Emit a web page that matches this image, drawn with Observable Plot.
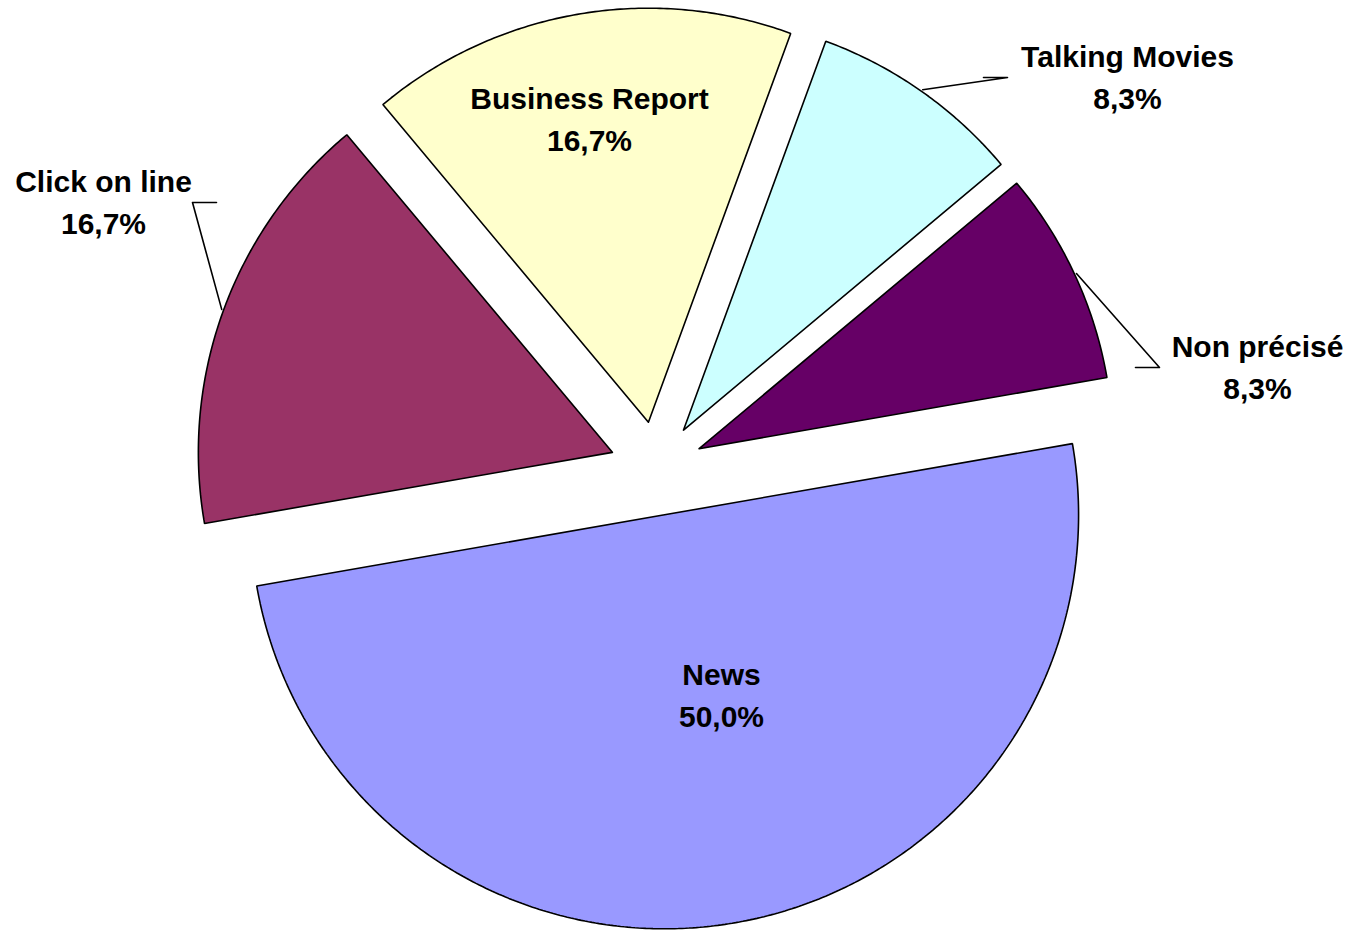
<!DOCTYPE html>
<html>
<head>
<meta charset="utf-8">
<script src="https://cdn.jsdelivr.net/npm/d3@7"></script>
<script src="https://cdn.jsdelivr.net/npm/@observablehq/plot@0.6"></script>
<style>
  html, body { margin: 0; padding: 0; background: #fff; }
  svg { display: block; }
</style>
</head>
<body>
<div id="chart"></div>
<script>
// ---- data ----
const categories = ["Talking Movies", "Non précisé", "News", "Click on line", "Business Report"];
const values = [1, 1, 6, 2, 2];
const colors = ["#CCFFFF", "#660066", "#9999FF", "#993366", "#FFFFCC"];

// ---- layout (pixels relative to pie centre) ----
const W = 1357, H = 931;
const cx = 656, cy = 468;          // pie centre in the picture
const R = 414;                      // radius
const explode = 47;                 // explosion offset
const rotation = 20.1 * Math.PI / 180; // first-slice angle (clockwise from 12 o'clock)
const labelLayout = {
  "Talking Movies":  {x: 471, y: -394, leader: [[351, -391], [327, -391]]},
  "Non précisé":     {x: 601, y: -104, leader: [[503, -101], [479, -101]]},
  "News":            {x: 65,  y: 224},
  "Click on line":   {x: -553, y: -269, leader: [[-464, -266], [-440, -266]]},
  "Business Report": {x: -67, y: -352}
};

const total = d3.sum(values);
const arcs = d3.pie().sort(null).startAngle(rotation).endAngle(rotation + 2 * Math.PI)(values);
const pt = (a, r) => [Math.sin(a) * r, -Math.cos(a) * r];

const slicePts = [];
const leaderPts = [];
const labels = [];
arcs.forEach((a, i) => {
  const name = categories[i];
  const mid = (a.startAngle + a.endAngle) / 2;
  const [ox, oy] = pt(mid, explode);
  slicePts.push({name, x: ox, y: oy});
  const steps = Math.max(2, Math.ceil((a.endAngle - a.startAngle) / (Math.PI / 360)));
  for (let k = 0; k <= steps; k++) {
    const ang = a.startAngle + (a.endAngle - a.startAngle) * k / steps;
    const [px, py] = pt(ang, R);
    slicePts.push({name, x: ox + px, y: oy + py});
  }
  slicePts.push({name, x: ox, y: oy});
  const pct = (100 * values[i] / total).toFixed(1).replace(".", ",") + "%";
  const L = labelLayout[name];
  labels.push({name, x: L.x, y: L.y, text: name + "\n" + pct});
  if (L.leader) {
    const [mx, my] = pt(mid, R + 2);
    leaderPts.push({name, x: ox + mx, y: oy + my});
    L.leader.forEach(([lx, ly]) => leaderPts.push({name, x: lx, y: ly}));
  }
});

const chart = Plot.plot({
  width: W,
  height: H,
  margin: 0,
  x: {domain: [-cx, W - cx], range: [0, W], axis: null},
  y: {domain: [-cy, H - cy], range: [0, H], axis: null},
  color: {type: "ordinal", domain: categories, range: colors},
  style: {background: "#fff"},
  marks: [
    Plot.line(slicePts, {x: "x", y: "y", z: "name", fill: "name", stroke: "#000", strokeWidth: 1.6, strokeLinejoin: "miter", curve: "linear"}),
    Plot.line(leaderPts, {x: "x", y: "y", z: "name", stroke: "#000", strokeWidth: 1.6, curve: "linear"}),
    Plot.text(labels, {x: "x", y: "y", text: "text", fill: "#000", fontSize: 30, fontWeight: "bold",
      fontFamily: "'Liberation Sans', Arial, sans-serif", lineHeight: 1.4, lineAnchor: "middle", textAnchor: "middle"})
  ]
});
document.getElementById("chart").appendChild(chart);
</script>
</body>
</html>
